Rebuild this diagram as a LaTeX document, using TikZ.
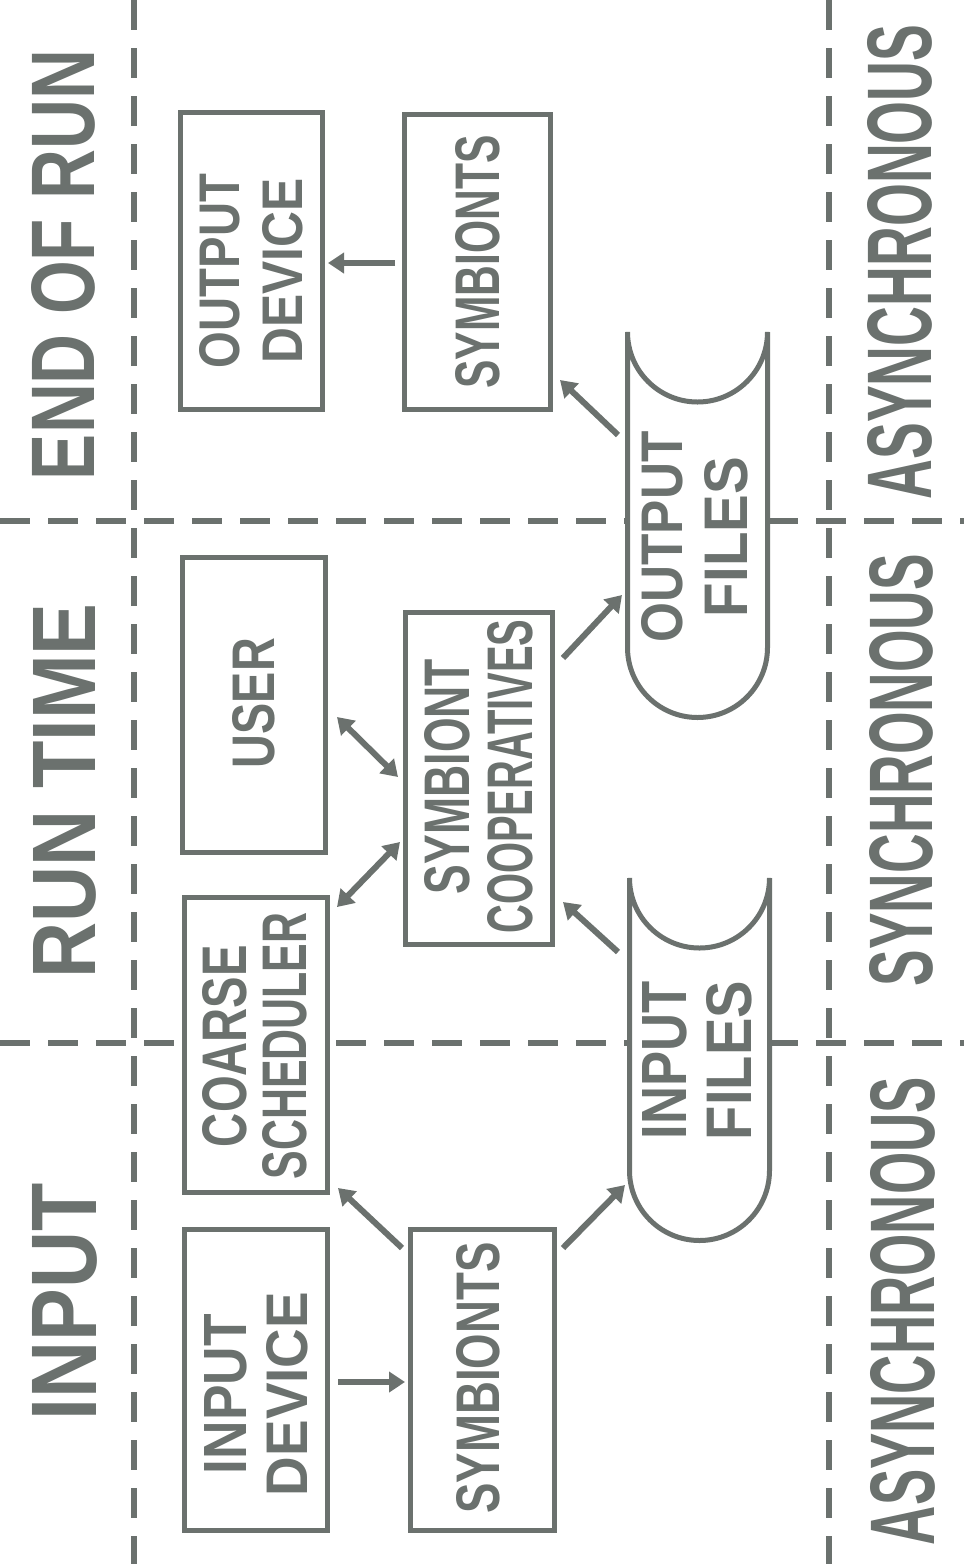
\documentclass[tikz,border=0pt]{standalone}
\usepackage{fontspec}
\setmainfont{Liberation Sans}
\usepackage{graphicx}
\usetikzlibrary{arrows.meta,calc}
\definecolor{ink}{RGB}{107,113,110}
\newcommand\fitt[3]{\resizebox{#1pt}{#2pt}{\bfseries #3}}
\newcommand\oneline[1]{\rotatebox{90}{#1}}
\newcommand\twolines[3]{\rotatebox{90}{\vbox{\baselineskip=#1pt\lineskiplimit=-\maxdimen\halign{\hfil##\hfil\cr#2\cr#3\cr}}}}
\newcommand\nudge[3]{\raisebox{-#2pt}[\height][\depth]{\kern#1pt\relax#3\kern-#1pt\relax}}
\begin{document}
\begin{tikzpicture}[x=1pt,y=-1pt,
  box/.style={draw=ink,line width=5pt,fill=white,inner sep=0pt,text=ink},
  filenode/.style={inner sep=0pt,outer sep=0pt,text=ink},
  fileline/.style={draw=ink,line width=5pt,fill=white},
  heading/.style={inner sep=0pt,text=ink},
  divider/.style={draw=ink,line width=6pt,dash pattern=on 30pt off 18pt},
  arr/.style={draw=ink,line width=6pt,-{Triangle[length=16pt,width=20pt]}},
  dbl/.style={draw=ink,line width=6pt,{Triangle[length=16pt,width=20pt]}-{Triangle[length=16pt,width=20pt]}}]
\fill[white] (0,0) rectangle (964,1564);
\useasboundingbox (0,0) rectangle (964,1564);

% dividers
\draw[divider] (134,0) -- (134,1564);
\draw[divider] (829,0) -- (829,1564);
\draw[divider] (0,521) -- (964,521);
\draw[divider] (0,1043) -- (964,1043);

% headings
\node[heading] (hend) at (63.5,265) {\oneline{\fitt{430}{63}{END OF RUN}}};
\node[heading] (hrun) at (65,791) {\oneline{\fitt{375}{62}{RUN TIME}}};
\node[heading] (hin) at (65,1302) {\oneline{\fitt{237}{64}{INPUT}}};
\node[heading] (async1) at (900,262) {\oneline{\fitt{475}{64}{ASYNCHRONOUS}}};
\node[heading] (sync) at (901,770) {\oneline{\fitt{432}{63}{SYNCHRONOUS}}};
\node[heading] (async2) at (903,1311) {\oneline{\fitt{468}{64}{ASYNCHRONOUS}}};

% boxes
\node[box,minimum width=142pt,minimum height=297pt] (od) at (251.5,261)
  {\nudge{0}{10}{\twolines{63}{\fitt{194}{40}{OUTPUT}}{\fitt{185}{40}{DEVICE}}}};
\node[box,minimum width=146pt,minimum height=295pt] (st) at (477.5,262)
  {\oneline{\fitt{253}{44}{SYMBIONTS}}};
\node[box,minimum width=143pt,minimum height=295pt] (user) at (254,705)
  {\nudge{0}{-2}{\oneline{\fitt{130}{42}{USER}}}};
\node[box,minimum width=147pt,minimum height=332pt] (coop) at (479,778.5)
  {\nudge{0}{-2}{\twolines{63}{\fitt{235}{45}{SYMBIONT}}{\fitt{314}{45}{COOPERATIVES}}}};
\node[box,minimum width=143pt,minimum height=295pt] (cs) at (256,1045)
  {\nudge{-1}{1}{\twolines{60}{\fitt{202}{44}{COARSE}}{\fitt{267}{44}{SCHEDULER}}}};
\node[box,minimum width=143pt,minimum height=301pt] (id) at (256,1380)
  {\nudge{0}{14}{\twolines{61}{\fitt{160}{42}{INPUT}}{\fitt{204}{41}{DEVICE}}}};
\node[box,minimum width=144pt,minimum height=301pt] (sb) at (482.5,1380)
  {\nudge{-4}{-2}{\oneline{\fitt{271}{43}{SYMBIONTS}}}};

% file shapes
\draw[fileline] (627.5,332) -- (627.5,647.5) arc[start angle=180,end angle=360,radius=70pt]
  -- (767.5,332) arc[start angle=0,end angle=-180,radius=70pt] -- cycle;
\node[filenode,minimum width=145pt,minimum height=388pt] (of) at (697.5,526)
  {\nudge{-2.5}{11}{\twolines{65}{\fitt{211}{41}{OUTPUT}}{\fitt{160}{43}{FILES}}}};
\draw[fileline] (629.5,878) -- (629.5,1170.5) arc[start angle=180,end angle=360,radius=70pt]
  -- (769.5,878) arc[start angle=0,end angle=-180,radius=70pt] -- cycle;
\node[filenode,minimum width=145pt,minimum height=365pt] (if) at (699.5,1060.5)
  {\nudge{-2}{0}{\twolines{65}{\fitt{158}{44}{INPUT}}{\fitt{159}{45}{FILES}}}};

% connectors
\draw[arr] ($(st.west)+(-7,1)$) -- ($(od.east)+(3,2)$);
\draw[arr] ($(of.north west)+(-7,103)$) -- ($(st.south east)+(7,-32)$);
\draw[dbl] ($(user.east)+(9,12)$) -- ($(coop.west)+(-5,-1.5)$);
\draw[dbl] ($(cs.north east)+(7,12)$) -- ($(coop.west)+(-3,63.5)$);
\draw[arr] ($(coop.north east)+(8,48)$) -- ($(of.west)+(-3,69)$);
\draw[arr] ($(if.north west)+(-9,74)$) -- ($(coop.south east)+(8,-45)$);
\draw[arr] ($(sb.north west)+(-6,21)$) -- ($(cs.south east)+(8,-7)$);
\draw[arr] ($(id.east)+(8,2)$) -- ($(sb.west)+(-3,2)$);
\draw[arr] ($(sb.north east)+(6,21)$) -- ($(if.south west)+(-2,-58)$);
\end{tikzpicture}
\end{document}
